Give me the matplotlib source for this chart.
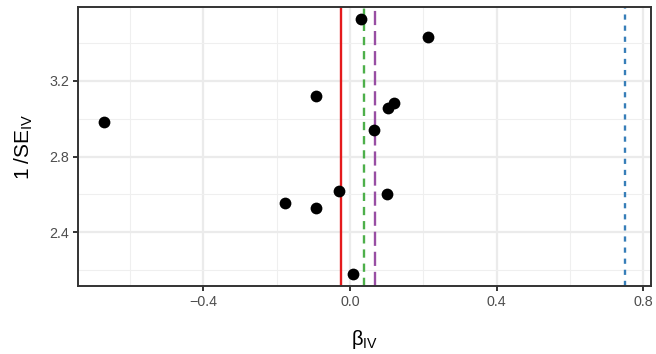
import matplotlib
matplotlib.use("Agg")
import matplotlib.pyplot as plt
import numpy as np

plt.rcParams['font.family'] = ['Liberation Sans', 'DejaVu Sans']
plt.rcParams['mathtext.fontset'] = 'custom'
plt.rcParams['mathtext.rm'] = 'Liberation Sans'
plt.rcParams['mathtext.it'] = 'Liberation Sans:italic'

# Data
beta_iv = [-0.671, -0.177, -0.0935, -0.0935, -0.030, 0.009, 0.030, 0.0655, 0.101, 0.1046, 0.121, 0.2136]
inv_se = [2.980, 2.553, 3.119, 2.527, 2.618, 2.182, 3.526, 2.940, 2.604, 3.054, 3.084, 3.429]

# Vertical estimate lines
est_values = [-0.025, 0.038, 0.067, 0.750]
est_colors = ['#E41A1C', '#4DAF4A', '#984EA3', '#377EB8']
est_dashes = [None, (3.5, 2.5), (6.0, 2.5), (2.2, 2.5)]

x_major = [-0.4, 0.0, 0.4, 0.8]
x_minor = [-0.6, -0.2, 0.2, 0.6]
y_major = [2.4, 2.8, 3.2]
y_minor = [2.2, 2.6, 3.0, 3.4]

fig = plt.figure(figsize=(6.56, 3.54), dpi=100)
ax = fig.add_axes([78/656, 1-286/354, (651-78)/656, (286-7)/354])

ax.set_xlim(-0.742, 0.821)
ax.set_ylim(2.117, 3.589)

ax.set_xticks(x_major)
ax.set_xticks(x_minor, minor=True)
ax.set_yticks(y_major)
ax.set_yticks(y_minor, minor=True)
ax.set_xticklabels(['\u22120.4', '0.0', '0.4', '0.8'])
ax.set_yticklabels(['2.4', '2.8', '3.2'])

ax.grid(True, which='major', color='#EBEBEB', lw=1.6, zorder=0)
ax.grid(True, which='minor', color='#EFEFEF', lw=0.8, zorder=0)
ax.set_axisbelow(True)

for v, c, d in zip(est_values, est_colors, est_dashes):
    ln = ax.axvline(v, color=c, lw=1.7, zorder=2)
    if d is not None:
        ln.set_dashes(d)

ax.scatter(beta_iv, inv_se, s=72, color='black', zorder=3, linewidths=0)

for s in ax.spines.values():
    s.set_color('#333333')
    s.set_linewidth(1.4)

ax.tick_params(which='major', length=3.5, width=1.4, color='#333333',
               labelsize=10.3, labelcolor='#4D4D4D', pad=3)
ax.tick_params(which='minor', length=0)

ax.set_xlabel(r'$\mathrm{β}_{\mathrm{IV}}$', fontsize=14.5, color='black', labelpad=14)
ax.set_ylabel(r'$\mathrm{1\;/SE}_{\mathrm{IV}}$', fontsize=15, color='black', labelpad=10)

fig.savefig('out.png', dpi=100)
